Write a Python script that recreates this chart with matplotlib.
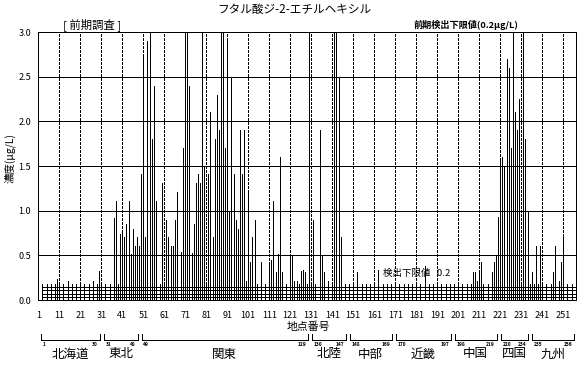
import matplotlib
matplotlib.use("Agg")
import matplotlib.pyplot as plt
import matplotlib.transforms as mtransforms

plt.rcParams['font.family'] = ['Noto Sans CJK JP', 'DejaVu Sans']

# ---- data ----
title = "フタル酸ジ-2-エチルヘキシル"
sites = [10, 15, 27, 30,
         37, 38, 40, 41, 42, 43, 44, 45, 46, 47, 48, 49, 50, 51, 52, 53, 54, 55, 56, 57, 59, 60,
         62, 63, 64, 65, 66, 67, 69, 70, 71, 72, 73, 74, 75, 76, 77, 78, 79, 80,
         82, 83, 84, 85, 86, 87, 88, 89, 90, 91, 92, 93, 94, 95, 96, 97, 98, 99, 100,
         101, 102, 103, 104, 107, 111, 112, 113, 114, 115, 116, 117, 121, 122, 123, 124, 126, 127, 128,
         130, 132, 135, 136, 137, 139, 142, 143, 144, 145,
         153, 163, 185,
         208, 209, 210, 211, 212, 217, 218, 219, 220,
         221, 222, 223, 224, 225, 226, 227, 228, 229, 230, 232, 233, 234,
         236, 238, 240, 246, 247, 249, 250, 251]
conc = [0.23, 0.21, 0.21, 0.32,
        0.92, 1.11, 0.74, 0.76, 0.70, 0.85, 1.11, 0.51, 0.80, 0.61, 0.71, 0.60, 1.41, 2.73, 0.70, 2.90, 3.2, 1.80, 2.40, 1.11, 0.16, 1.31,
        0.90, 0.70, 0.60, 0.60, 0.90, 1.21, 0.54, 1.70, 3.2, 3.2, 2.40, 0.53, 0.85, 1.31, 1.41, 1.31, 3.2, 1.50,
        1.41, 2.10, 0.70, 1.80, 2.30, 1.90, 3.2, 3.2, 1.70, 2.90, 1.00, 2.49, 1.41, 0.90, 0.80, 1.90, 1.41, 1.90, 0.21,
        1.21, 0.42, 0.70, 0.90, 0.42, 0.42, 0.45, 1.11, 0.31, 0.51, 1.60, 0.31, 0.50, 0.50, 0.21, 0.21, 0.32, 0.34, 0.31,
        3.2, 0.90, 1.90, 0.50, 0.31, 0.21, 3.2, 3.2, 2.49, 0.70,
        0.31, 0.34, 0.38,
        0.31, 0.31, 0.21, 0.31, 0.42, 0.31, 0.42, 0.50, 0.93,
        1.56, 1.60, 1.50, 2.70, 2.60, 1.70, 3.2, 2.10, 1.90, 2.25, 3.2, 1.80, 1.00,
        0.31, 0.60, 0.60, 0.31, 0.60, 0.21, 0.42, 0.70]
nd_levels = [0.035, 0.072, 0.11, 0.148]
xticks = [1, 11, 21, 31, 41, 51, 61, 71, 81, 91, 101, 111, 121, 131, 141,
          151, 161, 171, 181, 191, 201, 211, 221, 231, 241, 251]
yticks = [0.0, 0.5, 1.0, 1.5, 2.0, 2.5, 3.0]
regions = ["北海道", "東北", "関東", "北陸", "中部", "近畿", "中国", "四国", "九州"]
reg_start = [1, 31, 49, 130, 148, 170, 198, 220, 235]
reg_end = [30, 48, 129, 147, 169, 197, 219, 234, 256]

W, H = 580, 366
LW = 0.5
fig = plt.figure(figsize=(W / 100, H / 100), dpi=100)
ax = fig.add_axes([38 / W, 1 - 300 / H, (576 - 38) / W, (300 - 32) / H])
ax.set_xlim(0.86, 257.05)
ax.set_ylim(0, 3.0)

# grid
for yv in yticks[1:-1]:
    ax.axhline(yv, color='k', lw=LW, zorder=1, antialiased=False)
for xv in xticks[1:]:
    ax.axvline(xv, color='k', lw=LW, dashes=(3.6, 2.4), zorder=1, antialiased=False)

# ND hatch near the bottom
for lv in nd_levels:
    ax.hlines(lv, 2.6, 257.05, colors='k', lw=LW, zorder=2, antialiased=False)
ax.vlines(range(3, 257, 2), 0, 0.175, colors='k', lw=LW, zorder=2, antialiased=False)

# bars
ax.vlines(sites, 0, conc, colors='k', lw=LW, zorder=3, antialiased=False)

for s in ax.spines.values():
    s.set_linewidth(LW)
    s.set_antialiased(False)
ax.set_xticks(xticks)
ax.set_xticklabels([str(t) for t in xticks], fontsize=6.5)
ax.set_yticks(yticks)
ax.set_yticklabels([f"{t:.1f}" for t in yticks], fontsize=6.5)
ax.tick_params(axis='x', length=0, pad=8)
ax.tick_params(axis='y', length=0, pad=5)

def fx(x):
    return x / W

def fy(y):
    return 1 - y / H

fig.text(fx(294), fy(9), title, ha='center', va='center', fontsize=8.4)
fig.text(fx(92), fy(25), "[ 前期調査 ]", ha='center', va='center', fontsize=8.2)
fig.text(fx(466), fy(25), "前期検出下限値(0.2μg/L)", ha='center', va='center',
         fontsize=6.6, fontweight='bold')
ax.text(165, 0.30, "検出下限値   0.2", ha='left', va='center', fontsize=6.8, zorder=5)
fig.text(fx(10), fy(158), "濃度(μg/L)", ha='center', va='center', rotation=90, fontsize=7.5)
fig.text(fx(308), fy(327), "地点番号", ha='center', va='center', fontsize=7.8)

# region brackets
tr = mtransforms.blended_transform_factory(ax.transData, fig.transFigure)
for name, a, b in zip(regions, reg_start, reg_end):
    x0, x1 = a + 1.2, b + 0.3
    ax.plot([x0, x0, x1, x1], [fy(334), fy(340), fy(340), fy(334)], color='k',
            lw=LW, transform=tr, clip_on=False, antialiased=False)
    ax.text(x0 + 0.8, fy(345), str(a), transform=tr, fontsize=3.5, ha='left',
            va='center', fontweight='bold')
    ax.text(x1 - 0.8, fy(345), str(b), transform=tr, fontsize=3.5, ha='right',
            va='center', fontweight='bold')
    ax.text((x0 + x1) / 2, fy(354), name, transform=tr, fontsize=9, ha='center',
            va='center')

fig.savefig("out.png", dpi=100)
